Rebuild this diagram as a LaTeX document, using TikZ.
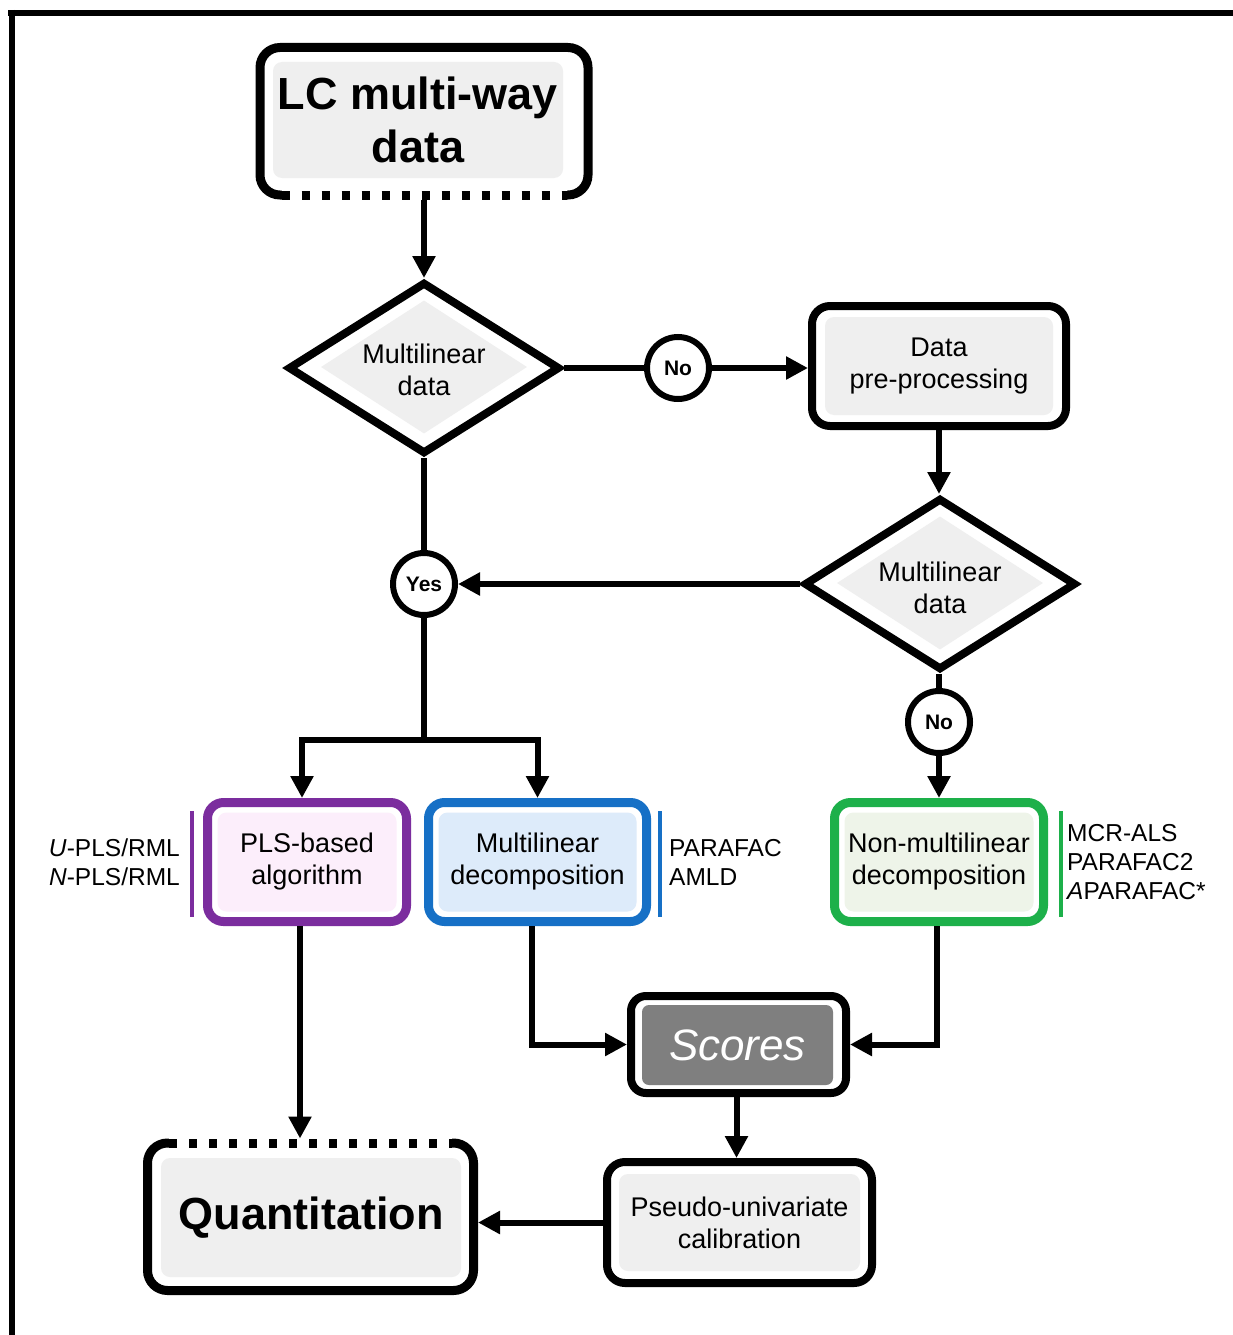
\documentclass[tikz,border=0pt]{standalone}
\usepackage{fontspec}
\setmainfont{Liberation Sans}
\usetikzlibrary{arrows.meta,shapes.geometric,calc}
\definecolor{lgrey}{HTML}{EFEFEF}
\definecolor{cpurple}{HTML}{7B2D9E}
\definecolor{cpink}{HTML}{FCEEFB}
\definecolor{cblue}{HTML}{1670C6}
\definecolor{clblue}{HTML}{DDEBFA}
\definecolor{cgreen}{HTML}{1DB04A}
\definecolor{clgreen}{HTML}{EEF4E9}
\definecolor{cdgrey}{HTML}{7F7F7F}
\begin{document}
\begin{tikzpicture}[x=1pt,y=-1pt,
  conn/.style={line width=6pt},
  arr/.style={conn,-{Triangle[length=22pt,width=22pt]}},
  bxo/.style={draw, line width=9pt, rounded corners=18pt, fill=white, inner sep=0pt},
  bxi/.style={rounded corners=9pt, inner sep=0pt, align=center, font=\fontsize{27}{32}\selectfont},
  circ/.style={circle, draw, line width=6pt, fill=white, minimum size=62pt, inner sep=0pt, font=\bfseries\fontsize{21}{24}\selectfont},
  dmo/.style={diamond, draw, line width=8pt, fill=white, minimum width=272pt, minimum height=172pt, inner sep=0pt},
  dmi/.style={diamond, fill=lgrey, minimum width=206pt, minimum height=133pt, inner sep=0pt},
  dmt/.style={align=center, inner sep=0pt, font=\fontsize{27}{32}\selectfont},
  lab/.style={inner sep=0pt, font=\fontsize{24.5}{29}\selectfont},
  dotedge/.style={line width=9pt, dash pattern=on 8pt off 12pt},
  sideline/.style={line width=4pt}
]
\useasboundingbox (0,0) rectangle (1233,1335);
\fill[white] (0,0) rectangle (1233,1335);
% frame
\draw[line width=6.5pt] (8,13) -- (1233,13);
\draw[line width=6.5pt] (12,10) -- (12,1335);

% top box
\node[bxo, rounded corners=20pt, minimum width=328pt, minimum height=147.5pt] (lc) at (424,121.25) {};
\node[bxi, fill=lgrey, minimum width=290pt, minimum height=116pt, font=\bfseries\fontsize{45}{53}\selectfont] (lcT) at (418,120) {LC multi-way\\data};
\draw[white, line width=11pt] ([shift={(26pt,4.5pt)}]lc.south west) -- ([shift={(-26pt,4.5pt)}]lc.south east);
\draw[dotedge] ([shift={(26pt,4.5pt)}]lc.south west) -- ([shift={(-26pt,4.5pt)}]lc.south east);

% diamonds
\node[dmo] (d1) at (424,368) {};
\node[dmi] (d1i) at (424,367) {};
\node[dmt] (d1t) at (424,370) {Multilinear\\data};
\node[dmo] (d2) at (940,584) {};
\node[dmi] (d2i) at (940,583) {};
\node[dmt] (d2t) at (940,588) {Multilinear\\data};

% data pre-processing
\node[bxo, line width=8pt, minimum width=254pt, minimum height=120pt] (dp) at (939,366) {};
\node[bxi, fill=lgrey, minimum width=228pt, minimum height=98pt] (dpT) at (939,366) {Data\\pre-processing};

% circles
\node[circ] (no1) at (678,368) {No};
\node[circ] (yes) at (424,584) {Yes};
\node[circ] (no2) at (939,722) {No};

% coloured boxes
\node[bxo, draw=cpurple, rounded corners=16pt, minimum width=199pt, minimum height=119pt] (pls) at (307,862) {};
\node[bxi, fill=cpink, minimum width=179pt, minimum height=99pt] (plsT) at (307,862) {PLS-based\\algorithm};
\node[bxo, draw=cblue, rounded corners=16pt, minimum width=218pt, minimum height=119pt] (md) at (537.5,862) {};
\node[bxi, fill=clblue, minimum width=198pt, minimum height=99pt] (mdT) at (537.5,862) {Multilinear\\decomposition};
\node[bxo, draw=cgreen, rounded corners=16pt, minimum width=209pt, minimum height=119pt] (nm) at (939,862) {};
\node[bxi, fill=clgreen, minimum width=189pt, minimum height=99pt] (nmT) at (939,862) {Non-multilinear\\decomposition};

% side lines and labels
\draw[sideline, cpurple] (192,811) -- (192,917);
\draw[sideline, cblue] (660,811) -- (660,917);
\draw[sideline, cgreen] (1061,811) -- (1061,917);
\node[lab, anchor=east, align=right] (lpls) at (180,862) {\textit{U}-PLS/RML\\\textit{N}-PLS/RML};
\node[lab, anchor=west, align=left] (lmd) at (669,862) {PARAFAC\\AMLD};
\node[lab, anchor=west, align=left] (lnm) at (1067,862) {MCR-ALS\\PARAFAC2\\\textit{A}PARAFAC*};

% scores
\node[bxo, line width=8pt, rounded corners=15pt, minimum width=215pt, minimum height=97pt] (sc) at (738.5,1044.5) {};
\node[bxi, fill=cdgrey, rounded corners=7pt, minimum width=191pt, minimum height=80pt, text=white, font=\itshape\fontsize{44}{50}\selectfont] (scT) at (737.5,1045) {Scores};

% pseudo-univariate
\node[bxo, line width=8pt, minimum width=265pt, minimum height=121pt] (ps) at (739.5,1222.5) {};
\node[bxi, fill=lgrey, minimum width=241pt, minimum height=97pt] (psT) at (739.5,1222.5) {Pseudo-univariate\\calibration};

% quantitation
\node[bxo, rounded corners=20pt, minimum width=326pt, minimum height=147.5pt] (qt) at (310.5,1216.75) {};
\node[bxi, fill=lgrey, minimum width=300pt, minimum height=119pt, font=\bfseries\fontsize{45}{50}\selectfont] (qtT) at (311,1217.5) {Quantitation};
\draw[white, line width=11pt] ([shift={(26pt,-4.5pt)}]qt.north west) -- ([shift={(-26pt,-4.5pt)}]qt.north east);
\draw[dotedge] ([shift={(26pt,-4.5pt)}]qt.north west) -- ([shift={(-26pt,-4.5pt)}]qt.north east);

% connectors
\draw[arr] (lc.south) -- (lc.south |- d1.north);
\draw[conn] (d1.east) -- (no1.west);
\draw[arr] (no1.east) -- (no1.east -| dp.west);
\draw[arr] (dp.south) -- (dp.south |- d2.north);
\draw[arr] (d2.west) -- (yes.east);
\draw[conn] (d1.south) -- (yes.north);
\coordinate (split) at (424,740);
\draw[conn] (yes.south) -- (split);
\draw[arr] (split) -| ([xshift=-5pt]pls.north);
\draw[arr] (split) -| (md.north);
\draw[conn] (no2.north |- d2.south) -- (no2.north);
\draw[arr] (no2.south) -- (nm.north);
\draw[arr] ([xshift=-6pt]md.south) |- (sc.west);
\draw[arr] ([xshift=-2pt]nm.south) |- (sc.east);
\draw[arr] ([xshift=-2pt]sc.south) -- ([xshift=-2pt]sc.south |- ps.north);
\draw[arr] (ps.west) -- (ps.west -| qt.east);
\draw[arr] ([xshift=-7pt]pls.south) -- ([xshift=-7pt]pls.south |- qt.north);
\end{tikzpicture}
\end{document}
